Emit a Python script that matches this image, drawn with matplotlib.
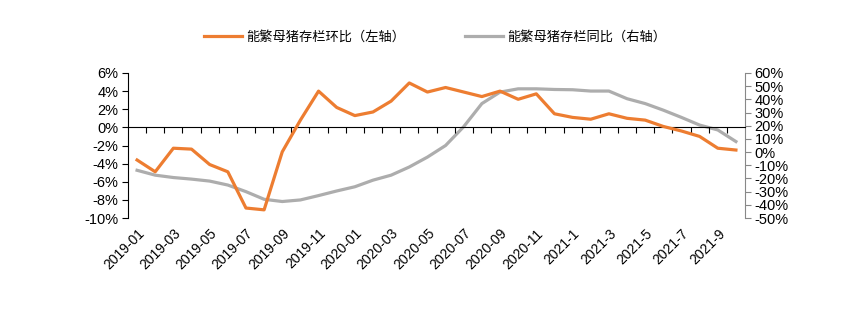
import matplotlib
matplotlib.use("Agg")
import matplotlib.pyplot as plt
from matplotlib.lines import Line2D

# monthly data 2019-01 .. 2021-10
months = ["2019-01", "2019-02", "2019-03", "2019-04", "2019-05", "2019-06",
          "2019-07", "2019-08", "2019-09", "2019-10", "2019-11", "2019-12",
          "2020-01", "2020-02", "2020-03", "2020-04", "2020-05", "2020-06",
          "2020-07", "2020-08", "2020-09", "2020-10", "2020-11", "2020-12",
          "2021-1", "2021-2", "2021-3", "2021-4", "2021-5", "2021-6",
          "2021-7", "2021-8", "2021-9", "2021-10"]

# 能繁母猪存栏环比 (%), left axis
mom = [-3.6, -4.9, -2.3, -2.4, -4.1, -4.9, -8.9, -9.1, -2.7, 0.8,
       4.0, 2.2, 1.3, 1.7, 2.9, 4.9, 3.9, 4.4, 3.9, 3.4,
       4.0, 3.1, 3.7, 1.5, 1.1, 0.9, 1.5, 1.0, 0.8, 0.1,
       -0.4, -1.0, -2.3, -2.5]

# 能繁母猪存栏同比 (%), right axis
yoy = [-13.8, -17.5, -19.3, -20.5, -22.0, -25.0, -30.0, -35.8, -37.5, -36.3,
       -33.0, -29.5, -26.3, -21.3, -17.5, -11.3, -3.8, 5.0, 19.3, 36.8,
       45.5, 48.0, 48.0, 47.5, 47.3, 46.3, 46.3, 40.5, 36.8, 31.8,
       26.3, 20.5, 16.8, 8.0]

left_ticks = [-10, -8, -6, -4, -2, 0, 2, 4, 6]
right_ticks = [-50, -40, -30, -20, -10, 0, 10, 20, 30, 40, 50, 60]

ORANGE = "#ED7D31"
GRAY = "#ADADAD"

plt.rcParams['font.family'] = ['Liberation Sans', 'DejaVu Sans']

fig = plt.figure(figsize=(8.64, 3.22), dpi=100)
ax = fig.add_axes([128 / 864, 1 - 218 / 322, (745 - 128) / 864, 145 / 322])
ax2 = ax.twinx()

x = list(range(len(months)))
ax.plot(x, mom, color=ORANGE, lw=2.3, zorder=3)
ax2.plot(x, yoy, color=GRAY, lw=2.3, zorder=2)
ax.set_zorder(ax2.get_zorder() + 1)
ax.patch.set_visible(False)

ax.set_xlim(-0.5, len(months) - 0.5)
ax.set_ylim(-10, 6)
ax2.set_ylim(-50, 60)
ax.set_yticks(left_ticks)
ax.set_yticklabels([f"{v}%" for v in left_ticks])
ax2.set_yticks(right_ticks)
ax2.set_yticklabels([f"{v}%" for v in right_ticks])

# category labels at the bottom, every second month
ax.set_xticks(x[::2])
ax.set_xticklabels(months[::2], rotation=45, ha='right', rotation_mode='anchor',
                   fontsize=10)
ax.tick_params(axis='x', length=0, pad=6)
ax.tick_params(axis='y', direction='out', length=4, width=0.8, labelsize=10.5, pad=3)
ax2.tick_params(axis='y', direction='out', length=4, width=0.8, labelsize=10.5,
                pad=3, colors='#888888', labelcolor='black')

for s in ['top', 'bottom', 'right']:
    ax.spines[s].set_visible(False)
for s in ['top', 'bottom', 'left']:
    ax2.spines[s].set_visible(False)
ax.spines['left'].set_linewidth(0.8)
ax2.spines['right'].set_color('#888888')
ax2.spines['right'].set_linewidth(0.8)

# horizontal category axis crossing at 0% with tick marks between months
zero_axis = ax.secondary_xaxis(10 / 16)
zero_axis.set_xticks([i - 0.5 for i in x[1:]])
zero_axis.set_xticklabels([])
zero_axis.tick_params(direction='in', length=4, width=0.8)
zero_axis.spines['bottom'].set_linewidth(0.9)

handles = [Line2D([], [], color=ORANGE, lw=2.3),
           Line2D([], [], color=GRAY, lw=2.3)]
fig.legend(handles, ["能繁母猪存栏环比（左轴）", "能繁母猪存栏同比（右轴）"],
           loc='center', bbox_to_anchor=(435 / 864, 1 - 37 / 322), ncol=2,
           frameon=False, handlelength=2.9, columnspacing=4.5, handletextpad=0.3,
           prop={'family': ['Noto Sans CJK SC', 'DejaVu Sans'], 'size': 9.5})

fig.savefig("out.png", dpi=100)
